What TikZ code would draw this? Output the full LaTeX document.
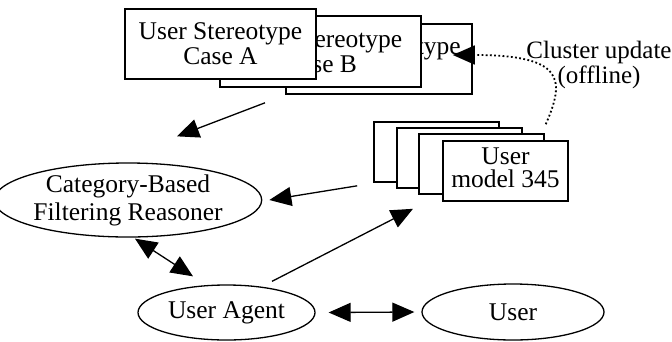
\documentclass[tikz,border=0pt]{standalone}
\usepackage{fontspec}
\setmainfont{Liberation Serif}
\usepackage{tikz}
\usetikzlibrary{shapes.geometric,arrows.meta,positioning,calc}

\begin{document}
\begin{tikzpicture}[x=1pt, y=-1pt,
    stereo/.style={draw, fill=white, line width=1.6pt, minimum width=191pt, minimum height=70pt, inner sep=0pt, align=center, font=\fontsize{25.5}{25}\selectfont},
    umodel/.style={draw, fill=white, line width=1.6pt, minimum width=125pt, minimum height=60pt, inner sep=0pt, align=center, font=\fontsize{25.5}{24}\selectfont},
    agentshape/.style={ellipse, draw, line width=1.3pt, inner sep=0pt, align=center, font=\fontsize{25.5}{28}\selectfont},
    myarrow/.style={-{Triangle[length=22pt,width=19pt]}, line width=1.3pt},
    twoarrow/.style={{Triangle[length=22pt,width=19pt]}-{Triangle[length=22pt,width=19pt]}, line width=1.3pt},
    tinylabel/.style={align=center, font=\fontsize{25}{25}\selectfont}
]
    \useasboundingbox (0,0) rectangle (672,341);

    % Stereotype stack
    \node[stereo, minimum width=186pt] (stC) at (379,59) {User Stereotype\\Case C};
    \node[stereo, minimum width=201pt, minimum height=71pt] (stB) at (320.5,51.5) {User Stereotype\\Case B};
    \node[stereo] (stA) at (220.5,44) {User Stereotype\\Case A};

    % User model stack
    \node[umodel] (um1) at (436.5,152) {};
    \node[umodel] (um2) at (459.5,158) {};
    \node[umodel] (um3) at (481.5,164) {};
    \node[umodel] (um4) at (505.5,171) {\raisebox{6pt}{\begin{tabular}{@{}c@{}}User\\[-2pt]model 345\end{tabular}}};

    % Ellipses
    \node[agentshape, minimum width=230pt, minimum height=74pt] (cbfr) at (128,200) {Category-Based\\Filtering Reasoner};
    \node[agentshape, minimum width=177pt, minimum height=55pt] (agent) at (226.5,312.5) {User Agent};
    \node[agentshape, minimum width=182pt, minimum height=56pt] (user) at (513,312) {User};

    % Cluster label
    \node[tinylabel] (clabel) at (599,65) {Cluster update\\(offline)};

    % Arrows
    \draw[myarrow] ([shift={(-55.5,15)}]stB.south) -- ([shift={(49,-26)}]cbfr.north);
    \draw[myarrow] ([shift={(-16,3)}]um1.south west) -- ([shift={(7,0)}]cbfr.east);
    \draw[twoarrow] ([shift={(7,1)}]cbfr.south) -- ([shift={(-33.5,-8)}]agent.north);
    \draw[myarrow] ([shift={(45.5,-3)}]agent.north) -- ([shift={(-23.5,26)}]um1.south);
    \draw[twoarrow] ([shift={(13,0)}]agent.east) -- ([shift={(-7,0)}]user.west);
    \draw[myarrow, line width=1.8pt, dash pattern=on 1.8pt off 2.4pt] ([shift={(-23,-16)}]um4.north east)
        .. controls (565,80) and (565,55) .. ([shift={(-20,-4)}]stC.east);
\end{tikzpicture}
\end{document}
